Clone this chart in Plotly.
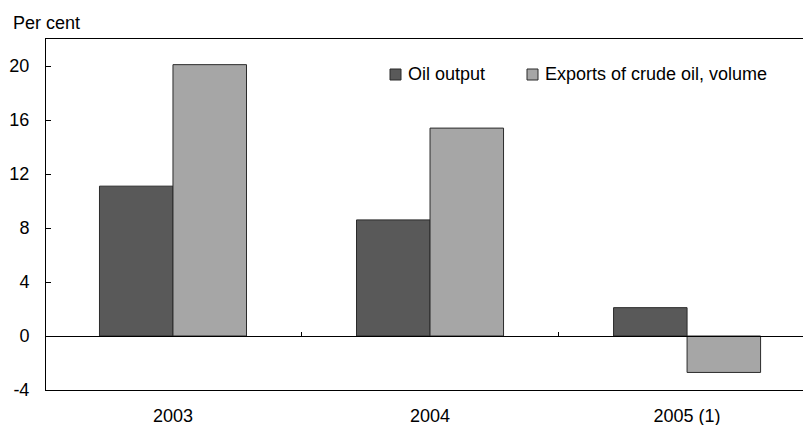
import plotly.graph_objects as go

categories = ["2003", "2004", "2005 (1)"]
oil_output = [11.1, 8.6, 2.1]
exports_crude = [20.1, 15.4, -2.7]
y_ticks = [-4, 0, 4, 8, 12, 16, 20]
y_tick_text = ["-4", "0", "4", "8", "12", "16", "20"]
series_names = ["Oil output", "Exports of crude oil, volume"]
series_colors = ["#595959", "#a6a6a6"]

W, H = 803, 425
m_l, m_r, m_t, m_b = 46, 0, 39, 35
PW, PH = W - m_l - m_r, H - m_t - m_b
x_range = [-0.494, 2.451]
y_range = [-4, 22]


def px_x(x):
    return (x - m_l) / PW


def px_y(y):
    return 1 - (y - m_t) / PH


fig = go.Figure()
for name, vals, col in zip(series_names, [oil_output, exports_crude], series_colors):
    fig.add_trace(go.Bar(name=name, x=categories, y=vals, showlegend=False,
                         marker=dict(color=col, line=dict(color="#2b2b2b", width=1))))

font = dict(family="Liberation Sans, Arial, sans-serif", size=18, color="#000000")

fig.update_layout(
    width=W, height=H,
    margin=dict(l=m_l, r=m_r, t=m_t, b=m_b, pad=0, autoexpand=False),
    paper_bgcolor="white", plot_bgcolor="white",
    font=font,
    barmode="group", bargap=0.428, bargroupgap=0,
    showlegend=False,
    xaxis=dict(type="category", range=x_range, showgrid=False, automargin=False,
               showline=True, linecolor="#000000", linewidth=1, mirror=True,
               ticks="", ticklabelstandoff=9, tickfont=font, zeroline=False),
    xaxis2=dict(type="linear", overlaying="x", anchor="free", automargin=False,
                position=(0 - y_range[0]) / (y_range[1] - y_range[0]),
                range=x_range, tickvals=[0.5, 1.5], ticks="inside", ticklen=4,
                tickcolor="#000000", showticklabels=False, showline=True,
                linecolor="#000000", linewidth=1, showgrid=False, zeroline=False),
    yaxis=dict(range=y_range, tickvals=y_ticks, ticktext=y_tick_text, ticks="inside", ticklen=5,
               tickcolor="#000000", showline=True, linecolor="#000000", linewidth=1,
               automargin=False,
               showgrid=False, zeroline=False, tickfont=font, ticklabelstandoff=12),
)
fig.add_trace(go.Scatter(x=[0], y=[0], xaxis="x2", mode="markers",
                         marker=dict(opacity=0), showlegend=False, hoverinfo="skip"))

# custom legend
legend_sq_x = [390, 527]
for sx, name, col in zip(legend_sq_x, series_names, series_colors):
    fig.add_shape(type="rect", xref="paper", yref="paper",
                  x0=px_x(sx), x1=px_x(sx + 11), y0=px_y(80), y1=px_y(69),
                  fillcolor=col, line=dict(color="#2b2b2b", width=1))
    fig.add_annotation(text=name, xref="paper", yref="paper", x=px_x(sx + 16), y=px_y(74),
                       xanchor="left", yanchor="middle", showarrow=False, font=font)

fig.add_annotation(text="Per cent", xref="paper", yref="paper", x=px_x(11), y=px_y(23),
                   xanchor="left", yanchor="middle", showarrow=False, font=font)

fig.write_html("out.html", config={"displayModeBar": False},
               post_script="document.body.style.margin='0';document.body.style.padding='0';")
